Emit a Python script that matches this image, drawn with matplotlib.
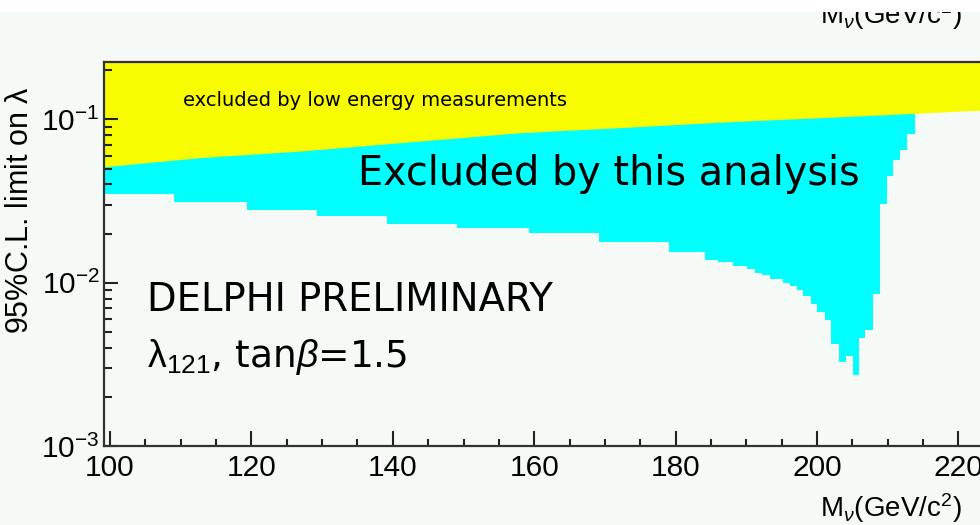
import matplotlib
matplotlib.use("Agg")
import matplotlib.pyplot as plt
from matplotlib.patches import Rectangle
from matplotlib.ticker import MultipleLocator, LogLocator

plt.rcParams['font.family'] = ['Liberation Sans', 'DejaVu Sans']
plt.rcParams['mathtext.fontset'] = 'custom'
plt.rcParams['mathtext.rm'] = 'Liberation Sans'
plt.rcParams['mathtext.it'] = 'Liberation Sans:italic'

# lower edge of the region excluded by low energy measurements
yellow_mass = [99.15, 112.7, 126.9, 141.0, 158.0, 172.1, 186.3, 200.4, 213.6, 219.2, 225.0]
yellow_lambda = [0.0513, 0.0583, 0.0640, 0.0720, 0.0829, 0.0890, 0.0962, 0.1024, 0.1088, 0.1119, 0.1145]

# 95% CL limit from this analysis (bin edges in mass, limit per bin)
mass_edges = [99.15, 109.05, 119.34, 129.28, 139.14, 149.04, 159.26, 169.17, 179.07,
              184.16, 186.0, 188.12, 190.10, 191.23, 192.22, 193.35, 195.19, 196.18,
              197.17, 198.02, 199.15, 200.0, 201.13, 201.98, 203.11, 204.10, 205.09,
              205.94, 206.79, 207.92, 208.91, 209.90, 210.75, 211.74, 212.73, 213.86]
limit_lambda = [0.0351, 0.0311, 0.0278, 0.0256, 0.0228, 0.0215, 0.0202, 0.0177, 0.0154,
                0.0137, 0.0133, 0.0126, 0.0122, 0.0115, 0.0112, 0.0105, 0.0100, 0.00953,
                0.00901, 0.00828, 0.00736, 0.00661, 0.00590, 0.00419, 0.00326, 0.00355,
                0.00274, 0.00460, 0.00512, 0.00848, 0.0302, 0.0450, 0.0561, 0.0649, 0.0818]

x_ticks = [100, 120, 140, 160, 180, 200, 220]

bg = '#f6faf7'
fig = plt.figure(figsize=(9.8, 5.25), dpi=100, facecolor=bg)
ax = fig.add_axes([0.1061, 0.1505, 0.908, 0.7314])
ax.set_facecolor(bg)
ax.set_yscale('log')
ax.set_xlim(99.15, 225)
ax.set_ylim(1e-3, 0.2246)

top = 1.0
ax.fill_between(mass_edges, limit_lambda + [limit_lambda[-1]], top, step='post',
                color='#00ffff', linewidth=0)
ax.fill_between(yellow_mass, yellow_lambda, top, color='#f8fc00', linewidth=0)

ax.set_xticks(x_ticks)
ax.xaxis.set_minor_locator(MultipleLocator(5))
ax.yaxis.set_major_locator(LogLocator(base=10))
ax.yaxis.set_minor_locator(LogLocator(base=10, subs=range(2, 10)))
ax.tick_params(which='both', direction='in', width=1.5, colors='#222222',
               labelsize=21.5, labelcolor='black')
ax.tick_params(axis='x', which='major', length=11, pad=6)
ax.tick_params(axis='x', which='minor', length=5)
ax.tick_params(axis='y', which='major', length=10, pad=3)
ax.tick_params(axis='y', which='minor', length=6)
for s in ax.spines.values():
    s.set_linewidth(1.6)
    s.set_color('#333333')

ax.text(110.3, 0.1307, 'excluded by low energy measurements', family='DejaVu Sans',
        fontsize=14, va='center', ha='left')
ax.text(135.1, 0.0394, 'Excluded by this analysis', family='DejaVu Sans',
        fontsize=28.6, va='baseline', ha='left')
ax.text(105.2, 0.00667, 'DELPHI PRELIMINARY', family='DejaVu Sans',
        fontsize=27.8, va='baseline', ha='left')
ax.text(105.2, 0.00303, r'$\mathrm{\lambda}_{121}$, tan$\beta$=1.5', family='DejaVu Sans',
        fontsize=27, va='baseline', ha='left')

fig.text(20 / 980, 1 - 210 / 525, r'95%C.L. limit on $\mathrm{\lambda}$', rotation=90,
         fontsize=22, ha='center', va='center')
fig.text(820 / 980, 1 - 517 / 525, r'M$_{\nu}$(GeV/c$^2$)', fontsize=20,
         ha='left', va='baseline')
# tail of the label of the panel above, cut by the page edge
fig.text(820 / 980, 1 - 24 / 525, r'M$_{\nu}$(GeV/c$^2$)', fontsize=20,
         ha='left', va='baseline')
fig.patches.append(Rectangle((0, 1 - 12 / 525), 1, 12 / 525, transform=fig.transFigure,
                             facecolor='white', edgecolor='none', zorder=10))

fig.savefig('out.png', dpi=100, facecolor=bg)
